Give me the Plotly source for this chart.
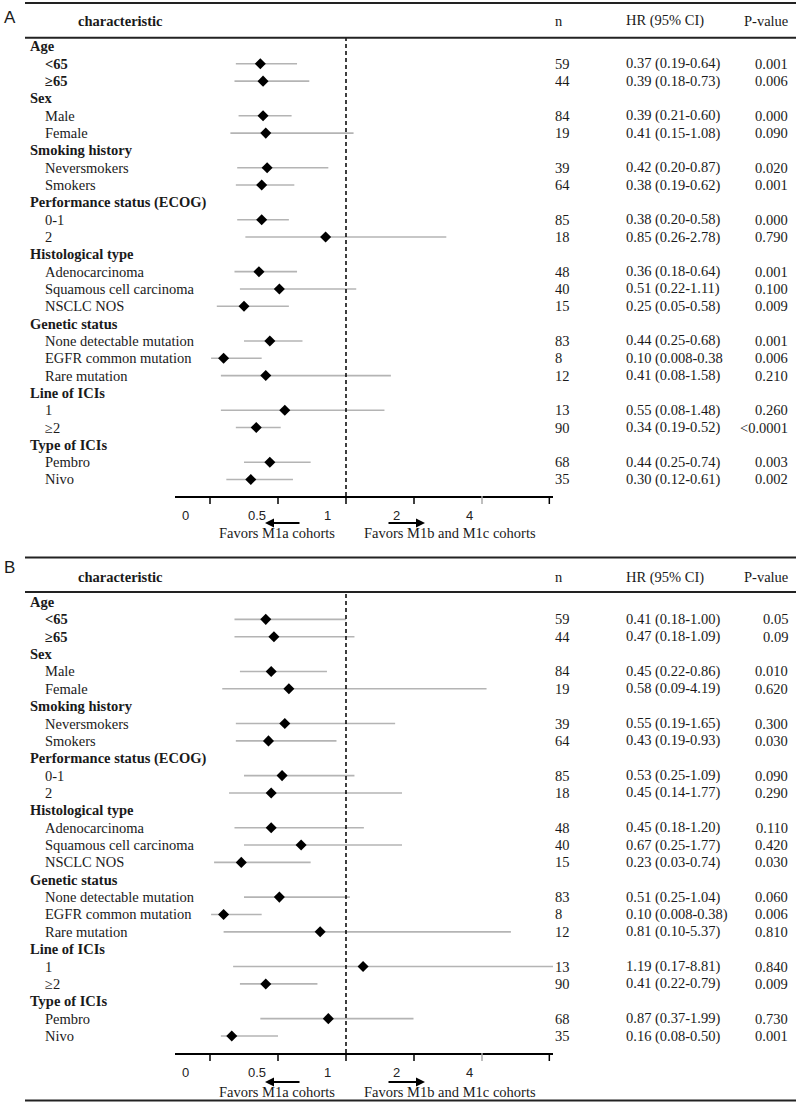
import math
import plotly.graph_objects as go

W, H = 796, 1103

# ---------------- data ----------------
row_labels = ["Age", "<65", "≥65", "Sex", "Male", "Female", "Smoking history", "Neversmokers", "Smokers",
              "Performance status (ECOG)", "0-1", "2", "Histological type", "Adenocarcinoma",
              "Squamous cell carcinoma", "NSCLC NOS", "Genetic status", "None detectable mutation",
              "EGFR common mutation", "Rare mutation", "Line of ICIs", "1", "≥2", "Type of ICIs",
              "Pembro", "Nivo"]
group_rows = [0, 3, 6, 9, 12, 16, 20, 23]
bold_sub_rows = [1, 2]
sub_rows = [1, 2, 4, 5, 7, 8, 10, 11, 13, 14, 15, 17, 18, 19, 21, 22, 24, 25]

n_vals = [59, 44, 84, 19, 39, 64, 85, 18, 48, 40, 15, 83, 8, 12, 13, 90, 68, 35]

hr_A = [0.37, 0.39, 0.39, 0.41, 0.42, 0.38, 0.38, 0.85, 0.36, 0.51, 0.25, 0.44, 0.10, 0.41, 0.55, 0.34, 0.44, 0.30]
lo_A = [0.19, 0.18, 0.21, 0.15, 0.20, 0.19, 0.20, 0.26, 0.18, 0.22, 0.05, 0.25, 0.008, 0.08, 0.08, 0.19, 0.25, 0.12]
hi_A = [0.64, 0.73, 0.60, 1.08, 0.87, 0.62, 0.58, 2.78, 0.64, 1.11, 0.58, 0.68, 0.38, 1.58, 1.48, 0.52, 0.74, 0.61]
hrtext_A = ["0.37 (0.19-0.64)", "0.39 (0.18-0.73)", "0.39 (0.21-0.60)", "0.41 (0.15-1.08)",
            "0.42 (0.20-0.87)", "0.38 (0.19-0.62)", "0.38 (0.20-0.58)", "0.85 (0.26-2.78)",
            "0.36 (0.18-0.64)", "0.51 (0.22-1.11)", "0.25 (0.05-0.58)", "0.44 (0.25-0.68)",
            "0.10 (0.008-0.38", "0.41 (0.08-1.58)", "0.55 (0.08-1.48)", "0.34 (0.19-0.52)",
            "0.44 (0.25-0.74)", "0.30 (0.12-0.61)"]
p_A = ["0.001", "0.006", "0.000", "0.090", "0.020", "0.001", "0.000", "0.790", "0.001", "0.100",
       "0.009", "0.001", "0.006", "0.210", "0.260", "<0.0001", "0.003", "0.002"]

hr_B = [0.41, 0.47, 0.45, 0.58, 0.55, 0.43, 0.53, 0.45, 0.45, 0.67, 0.23, 0.51, 0.10, 0.81, 1.19, 0.41, 0.87, 0.16]
lo_B = [0.18, 0.18, 0.22, 0.09, 0.19, 0.19, 0.25, 0.14, 0.18, 0.25, 0.03, 0.25, 0.008, 0.10, 0.17, 0.22, 0.37, 0.08]
hi_B = [1.00, 1.09, 0.86, 4.19, 1.65, 0.93, 1.09, 1.77, 1.20, 1.77, 0.74, 1.04, 0.38, 5.37, 8.81, 0.79, 1.99, 0.50]
hrtext_B = ["0.41 (0.18-1.00)", "0.47 (0.18-1.09)", "0.45 (0.22-0.86)", "0.58 (0.09-4.19)",
            "0.55 (0.19-1.65)", "0.43 (0.19-0.93)", "0.53 (0.25-1.09)", "0.45 (0.14-1.77)",
            "0.45 (0.18-1.20)", "0.67 (0.25-1.77)", "0.23 (0.03-0.74)", "0.51 (0.25-1.04)",
            "0.10 (0.008-0.38)", "0.81 (0.10-5.37)", "1.19 (0.17-8.81)", "0.41 (0.22-0.79)",
            "0.87 (0.37-1.99)", "0.16 (0.08-0.50)"]
p_B = ["0.05", "0.09", "0.010", "0.620", "0.300", "0.030", "0.090", "0.290", "0.110", "0.420",
       "0.030", "0.060", "0.006", "0.810", "0.840", "0.009", "0.730", "0.001"]

tick_vals = [0, 0.5, 1, 2, 4]
tick_text = ["0", "0.5", "1", "2", "4"]


# piecewise scale of the original: linear below 1, log2 above 1
def tpos(h):
    return 2 * (h - 1) if h <= 1 else math.log2(h)


# ---------------- layout helpers ----------------
def P(px):
    return px / W


def Q(py):
    return 1 - py / H


SERIF = "Liberation Serif"
SANS = "Liberation Sans"
TXT = "#1a1a1a"
FS = 14.5

X0, X1 = 175, 553          # axis pixel extent
XC, UNIT = 346, 68         # pixel of HR=1, pixels per unit
xrange_ = [(X0 - XC) / UNIT, (X1 - XC) / UNIT]

panels = [
    dict(name="A", hr=hr_A, lo=lo_A, hi=hi_A, hrtext=hrtext_A, p=p_A,
         top=3, head=21, rule=37.7, row0=46.5, step=17.32, axis=496, ticklab=515, arrow=523, fav=533,
         letter=17.5),
    dict(name="B", hr=hr_B, lo=lo_B, hi=hi_B, hrtext=hrtext_B, p=p_B,
         top=557.5, head=577, rule=592, row0=602, step=17.36, axis=1053, ticklab=1072, arrow=1082, fav=1092,
         letter=567.5),
]

fig = go.Figure()
annotations = []
shapes = []
layout_axes = {}
tick_shift = [-25, -21, -19, -18, -13]
tick_colors = ["black", "black", "black", "black", "#aaaaaa", "black"]

for k, pn in enumerate(panels):
    sfx = "" if k == 0 else str(k + 1)
    xa, ya = "x" + sfx, "y" + sfx
    y_bot = (pn["axis"] - pn["row0"]) / pn["step"]
    y_top = (pn["rule"] - pn["row0"]) / pn["step"]
    layout_axes["xaxis" + sfx] = dict(
        domain=[P(X0), P(X1)], range=xrange_, anchor=ya,
        showgrid=False, zeroline=False, showline=True, linecolor="black", linewidth=1.5,
        ticks="", showticklabels=False, fixedrange=True)
    layout_axes["yaxis" + sfx] = dict(
        domain=[Q(pn["axis"]), Q(pn["rule"])], range=[y_bot, y_top], anchor=xa,
        visible=False, fixedrange=True)

    # tick marks (drawn below the axis line)
    for tv, tc in zip([tpos(v) for v in tick_vals] + [2.99], tick_colors):
        shapes.append(dict(type="line", xref=xa, yref="paper", x0=tv, x1=tv,
                           y0=Q(pn["axis"]), y1=Q(pn["axis"] + 8), line=dict(color=tc, width=1.5)))

    # CI lines
    lx, ly = [], []
    for r, lo, hi in zip(sub_rows, pn["lo"], pn["hi"]):
        lx += [tpos(lo), tpos(hi), None]
        ly += [r, r, None]
    fig.add_trace(go.Scatter(x=lx, y=ly, mode="lines", xaxis=xa, yaxis=ya,
                             line=dict(color="#b4b4b4", width=1.6), hoverinfo="skip", showlegend=False))
    # point estimates
    fig.add_trace(go.Scatter(x=[tpos(h) for h in pn["hr"]], y=sub_rows, mode="markers", xaxis=xa, yaxis=ya,
                             marker=dict(symbol="diamond", size=8.5, color="black"),
                             showlegend=False, cliponaxis=False))

    # dashed reference line at HR=1
    shapes.append(dict(type="line", xref=xa, yref=ya + " domain", x0=tpos(1), x1=tpos(1), y0=0, y1=1,
                       line=dict(color="black", width=1.5, dash="4px,3px")))

    # horizontal rules
    shapes.append(dict(type="line", xref="paper", yref="paper", x0=P(25), x1=1, y0=Q(pn["top"]),
                       y1=Q(pn["top"]), line=dict(color="#222", width=2)))
    shapes.append(dict(type="line", xref="paper", yref="paper", x0=P(25), x1=1, y0=Q(pn["rule"]),
                       y1=Q(pn["rule"]), line=dict(color="#222", width=2)))

    # panel letter
    annotations.append(dict(text=pn["name"], xref="paper", yref="paper", x=P(2), y=Q(pn["letter"]),
                            xanchor="left", yanchor="middle", showarrow=False,
                            font=dict(family=SANS, size=17, color=TXT)))
    # column headers
    for txt, px, anc in [("<b>characteristic</b>", 76, "left"), ("n", 553, "left"),
                         ("HR (95% CI)", 624, "left"), ("P-value", 790, "right")]:
        annotations.append(dict(text=txt, xref="paper", yref="paper", x=P(px), y=Q(pn["head"]),
                                xanchor=anc, yanchor="middle", showarrow=False,
                                font=dict(family=SERIF, size=FS, color=TXT)))
    # row labels
    for r, lab in enumerate(row_labels):
        is_group = r in group_rows
        txt = lab.replace("<", "&lt;")
        if is_group or r in bold_sub_rows:
            txt = "<b>" + txt + "</b>"
        annotations.append(dict(text=txt, xref="paper", yref=ya, x=P(28 if is_group else 43), y=r,
                                xanchor="left", yanchor="middle", showarrow=False,
                                font=dict(family=SERIF, size=FS, color=TXT)))
    # value columns
    for r, nv, ht, pv in zip(sub_rows, n_vals, pn["hrtext"], pn["p"]):
        for txt, px, anc in [(str(nv), 553, "left"), (ht, 624, "left"), (pv.replace("<", "&lt;"), 790, "right")]:
            annotations.append(dict(text=txt, xref="paper", yref=ya, x=P(px), y=r,
                                    xanchor=anc, yanchor="middle", showarrow=False,
                                    font=dict(family=SERIF, size=FS, color=TXT)))
    # tick labels
    for v, t, sh in zip(tick_vals, tick_text, tick_shift):
        annotations.append(dict(text=t, xref=xa, yref="paper", x=tpos(v), y=Q(pn["ticklab"]),
                                xshift=sh, xanchor="center", yanchor="middle", showarrow=False,
                                font=dict(family=SANS, size=13, color="#222")))
    # arrows
    annotations.append(dict(text="", xref="paper", yref="paper", x=P(265), y=Q(pn["arrow"]),
                            ax=36, ay=0, showarrow=True, arrowhead=2, arrowsize=1, arrowwidth=1.8,
                            arrowcolor="black"))
    annotations.append(dict(text="", xref="paper", yref="paper", x=P(425), y=Q(pn["arrow"]),
                            ax=-38, ay=0, showarrow=True, arrowhead=2, arrowsize=1, arrowwidth=1.8,
                            arrowcolor="black"))
    # favors text
    for txt, px in [("Favors M1a cohorts", 277), ("Favors M1b and M1c cohorts", 450)]:
        annotations.append(dict(text=txt, xref="paper", yref="paper", x=P(px), y=Q(pn["fav"]),
                                xanchor="center", yanchor="middle", showarrow=False,
                                font=dict(family=SERIF, size=FS, color=TXT)))

# bottom rule of panel B
shapes.append(dict(type="line", xref="paper", yref="paper", x0=P(25), x1=1, y0=Q(1100.5), y1=Q(1100.5),
                   line=dict(color="#222", width=2)))

fig.update_layout(
    width=W, height=H, margin=dict(l=0, r=0, t=0, b=0),
    paper_bgcolor="white", plot_bgcolor="white",
    annotations=annotations, shapes=shapes, showlegend=False,
    **layout_axes)

fig.write_html("out.html", config={"displayModeBar": False},
               post_script="document.documentElement.style.margin='0';document.body.style.margin='0';"
                           "document.body.style.padding='0';document.body.style.overflow='hidden';")
